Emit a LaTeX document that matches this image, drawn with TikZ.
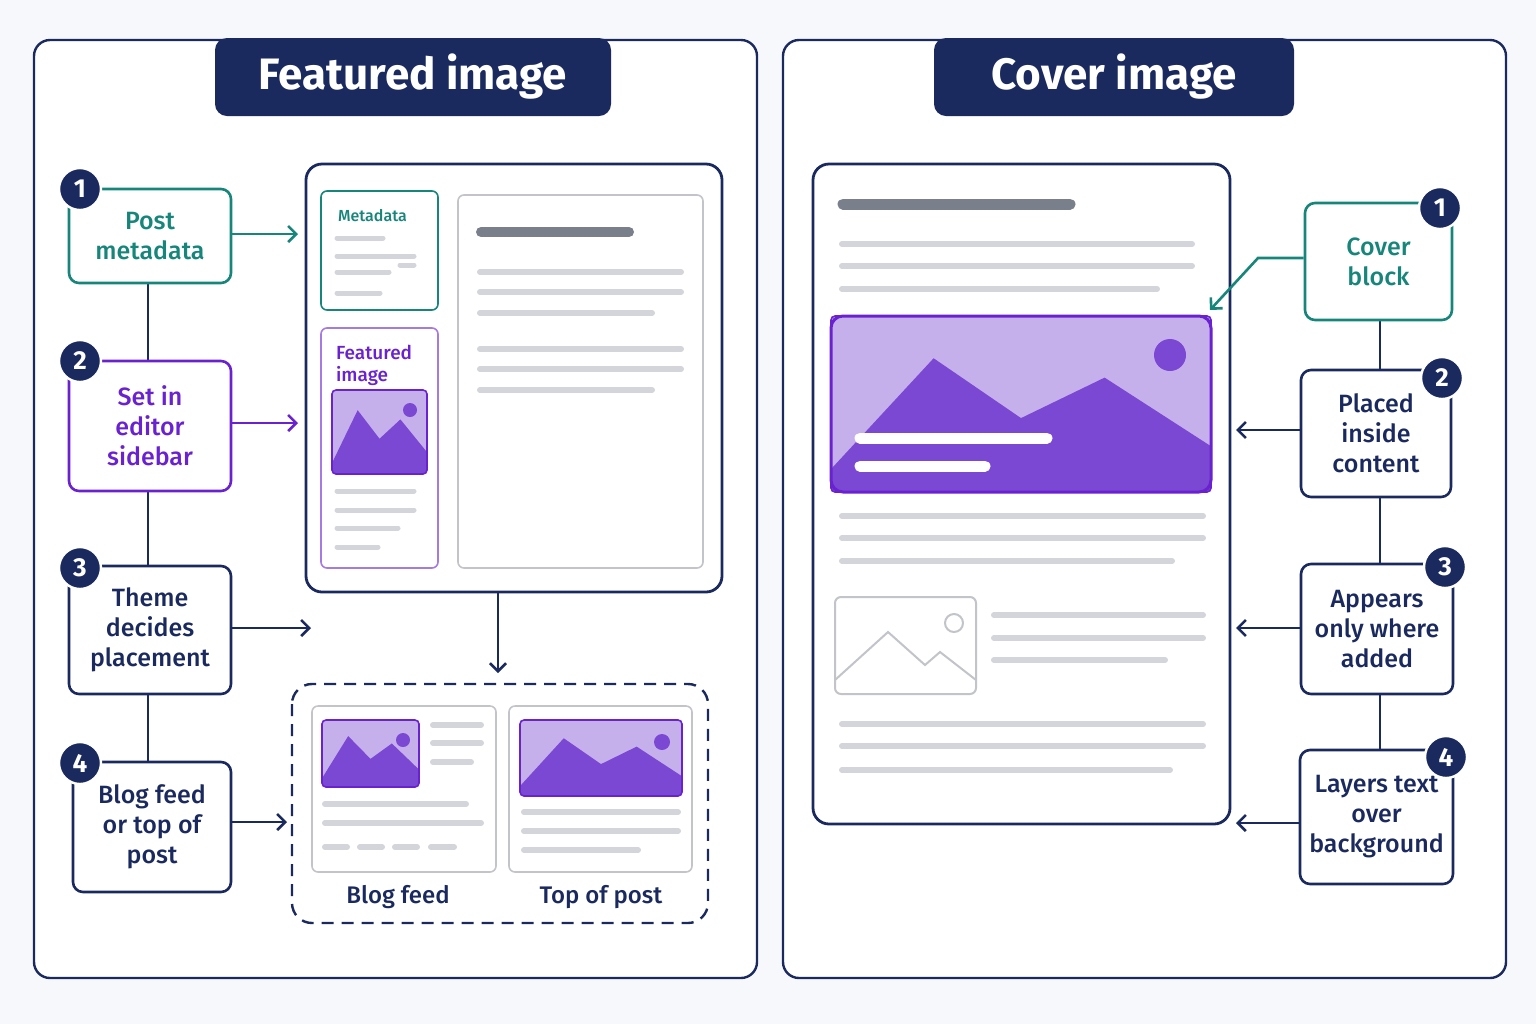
\documentclass[tikz,border=0pt]{standalone}
\usepackage{fontspec}
\setmainfont{Fira Sans}
\newfontfamily\medf{Fira Sans Medium}
\usetikzlibrary{arrows.meta,calc}
\definecolor{navy}{HTML}{1B2A5E}
\definecolor{teal}{HTML}{16857A}
\definecolor{purp}{HTML}{6A22D0}
\definecolor{imgl}{HTML}{C6B0EC}
\definecolor{imgd}{HTML}{7A48D2}
\definecolor{lgray}{HTML}{D3D5DB}
\definecolor{dgray}{HTML}{7A7F8C}
\definecolor{bg}{HTML}{F7F8FC}
\newcommand\imgbox[5][imgl]{%
 \fill[#1,rounded corners=2pt] (#2,#3) rectangle (#4,#5);
 \begin{scope}\clip[rounded corners=2pt] (#2,#3) rectangle (#4,#5);
 \fill[imgd] ({#2},{#3+0.87*(#5-#3)}) -- ({#2+0.27*(#4-#2)},{#3+0.24*(#5-#3)}) -- ({#2+0.5*(#4-#2)},{#3+0.58*(#5-#3)}) -- ({#2+0.72*(#4-#2)},{#3+0.35*(#5-#3)}) -- ({#4},{#3+0.74*(#5-#3)}) -- (#4,#5) -- (#2,#5) -- cycle;
 \end{scope}
 \draw[purp,line width=0.8pt,rounded corners=2pt] (#2,#3) rectangle (#4,#5);}
\begin{document}
\begin{tikzpicture}[x=0.5pt,y=-0.5pt,
 panel/.style={draw=navy,line width=1.2pt,rounded corners=8pt,fill=white},
 title/.style={fill=navy,rounded corners=6pt,text=white,font=\fontsize{22}{26}\selectfont\bfseries},
 lbl/.style={draw=#1,line width=1.3pt,rounded corners=5pt,fill=white,text=#1,align=center,font=\medf\fontsize{12.5}{15}\selectfont},
 badge/.style={circle,fill=navy,draw=white,line width=1.2pt,minimum size=21pt,inner sep=0,text=white,font=\fontsize{13}{13}\selectfont\bfseries},
 arw/.style={-{Straight Barb[length=4pt,width=8pt]},line width=1.3pt},
 gl/.style={lgray,line width=3pt,line cap=round},
 card/.style={draw=lgray!80!gray,line width=0.8pt,rounded corners=3pt,fill=white}]
\fill[bg] (0,0) rectangle (1536,1024);
\useasboundingbox (0,0) rectangle (1536,1024);
% panels
\draw[panel] (34,40) rectangle (757,978);
\draw[panel] (783,40) rectangle (1506,978);
\node[title,minimum width=198pt,minimum height=39pt] (t1) at (413,77) {Featured image};
\node[title,minimum width=180pt,minimum height=39pt] (t2) at (1114,77) {Cover image};
% left spine
\coordinate (ls1) at (148,284); \coordinate (ls2) at (148,762);
\draw[navy,line width=1.3pt] (ls1) -- (ls2);
\node[lbl=teal,minimum width=81pt,minimum height=47pt] (a1) at (150,236) {Post\\metadata};
\node[lbl=purp,minimum width=81pt,minimum height=65pt] (a2) at (150,426) {Set in\\editor\\sidebar};
\node[lbl=navy,minimum width=81pt,minimum height=64pt] (a3) at (150,630) {Theme\\decides\\placement};
\node[lbl=navy,minimum width=79pt,minimum height=65pt] (a4) at (152,827) {Blog feed\\or top of\\post};
\node[badge] (b1) at (80,189) {1};
\node[badge] (b2) at (80,361) {2};
\node[badge] (b3) at (80,568) {3};
\node[badge] (b4) at (80,763) {4};
\coordinate (e1) at (298,234); \coordinate (e2) at (298,423);
\coordinate (e3) at (311,628); \coordinate (e4) at (287,822);
\draw[arw,teal] (a1.east|-e1) -- (e1);
\draw[arw,purp] (a2.east|-e2) -- (e2);
\draw[arw,navy] (a3.east|-e3) -- (e3);
\draw[arw,navy] (a4.east|-e4) -- (e4);
% mock page
\draw[navy,line width=1.4pt,rounded corners=8pt,fill=white] (306,164) rectangle (722,592);
\node[draw=teal,line width=0.8pt,rounded corners=3pt,minimum width=58.5pt,minimum height=59.5pt] (mc) at (379.5,250.5) {};
\node[text=teal,font=\medf\fontsize{8}{9}\selectfont,anchor=west] (mt) at (331,216) {Metadata};
\draw[gl,line width=2.5pt] (337,238)--(383,238) (337,256)--(414,256) (337,272)--(389,272) (337,293)--(380,293) (400,265)--(414,265);
\node[draw=purp!60,line width=0.8pt,rounded corners=3pt,minimum width=58.5pt,minimum height=120pt] (fc) at (379.5,448) {};
\node[text=purp,font=\medf\fontsize{9.5}{11}\selectfont,align=left,anchor=north west] (ft) at (329,338) {Featured\\image};
\imgbox{332}{390}{427}{474}
\fill[imgd] (410,410) circle[radius=7];
\draw[gl,line width=2.5pt] (337,491)--(414,491) (337,510)--(414,510) (337,528)--(398,528) (337,547)--(378,547);
\node[card,minimum width=122.5pt,minimum height=186.5pt] (rc) at (580.5,381.5) {};
\draw[dgray,line width=5pt,line cap=round] (481,232)--(629,232);
\draw[gl] (480,272)--(681,272) (480,292)--(681,292) (480,313)--(652,313) (480,349)--(681,349) (480,369)--(681,369) (480,390)--(652,390);
\coordinate (d0) at (498,592); \coordinate (d1) at (498,673);
\draw[arw,navy] (d0) -- (d1);
% dashed box
\draw[navy,line width=1.2pt,dashed,dash pattern=on 6pt off 4pt,rounded corners=10pt] (292,684) rectangle (708,923);
\node[card,minimum width=92pt,minimum height=83pt] (bf) at (404,789) {};
\imgbox{322}{720}{419}{787}
\fill[imgd] (403,740) circle[radius=7];
\draw[gl] (433,725)--(481,725) (433,743)--(481,743) (433,762)--(471,762) (325,804)--(466,804) (325,823)--(481,823) (325,847)--(347,847) (360,847)--(382,847) (395,847)--(417,847) (431,847)--(454,847);
\node[card,minimum width=91.5pt,minimum height=83pt] (tp) at (600.5,789) {};
\imgbox{520}{720}{682}{796}
\fill[imgd] (662,742) circle[radius=8];
\draw[gl] (524,812)--(678,812) (524,831)--(678,831) (524,850)--(638,850);
\node[text=navy,font=\medf\fontsize{12}{14}\selectfont] (l1) at (398,897) {Blog feed};
\node[text=navy,font=\medf\fontsize{12}{14}\selectfont] (l2) at (601,897) {Top of post};
% right page
\draw[navy,line width=1.4pt,rounded corners=8pt,fill=white] (813,164) rectangle (1230,824);
\draw[dgray,line width=5.5pt,line cap=round] (843,204)--(1070,204);
\draw[gl] (842,244)--(1192,244) (842,266)--(1192,266) (842,289)--(1157,289);
\imgbox{831}{316}{1211}{492}
\draw[purp,line width=1.5pt,rounded corners=6pt] (831,316) rectangle (1211,492);
\fill[imgd] (1170,355) circle[radius=16];
\draw[white,line width=5.5pt,line cap=round] (860,438)--(1047,438) (860,466)--(985,466);
\draw[gl] (842,516)--(1203,516) (842,538)--(1203,538) (842,561)--(1172,561);
\draw[lgray!80!gray,line width=1pt,rounded corners=3pt,fill=white] (835,597) rectangle (976,694);
\draw[lgray!80!gray,line width=1pt] (835,680)--(888,632)--(925,665)--(940,652)--(976,680);
\draw[lgray!80!gray,line width=1pt] (954,623) circle[radius=9];
\draw[gl] (994,615)--(1203,615) (994,638)--(1203,638) (994,660)--(1165,660);
\draw[gl] (842,724)--(1203,724) (842,746)--(1203,746) (842,770)--(1170,770);
% right labels
\coordinate (rs1) at (1380,320); \coordinate (rs2) at (1380,750);
\draw[navy,line width=1.3pt] (rs1) -- (rs2);
\node[lbl=teal,minimum width=73.5pt,minimum height=58.5pt] (c1) at (1378.5,261.5) {Cover\\block};
\node[lbl=navy,minimum width=75pt,minimum height=63.5pt] (c2) at (1376,433.5) {Placed\\inside\\content};
\node[lbl=navy,minimum width=76pt,minimum height=65pt] (c3) at (1377,629) {Appears\\only where\\added};
\node[lbl=navy,minimum width=76.5pt,minimum height=67pt] (c4) at (1376.5,817) {Layers text\\over\\background};
\node[badge] (r1) at (1440,208) {1};
\node[badge] (r2) at (1442,378) {2};
\node[badge] (r3) at (1445,567) {3};
\node[badge] (r4) at (1446,757) {4};
\coordinate (k1) at (1258,258); \coordinate (k2) at (1210,310);
\draw[arw,teal] (c1.west|-k1) -- (k1) -- (k2);
\coordinate (f2) at (1236,430); \coordinate (f3) at (1236,628); \coordinate (f4) at (1236,823);
\draw[arw,navy] (c2.west|-f2) -- (f2);
\draw[arw,navy] (c3.west|-f3) -- (f3);
\draw[arw,navy] (c4.west|-f4) -- (f4);
\end{tikzpicture}
\end{document}
